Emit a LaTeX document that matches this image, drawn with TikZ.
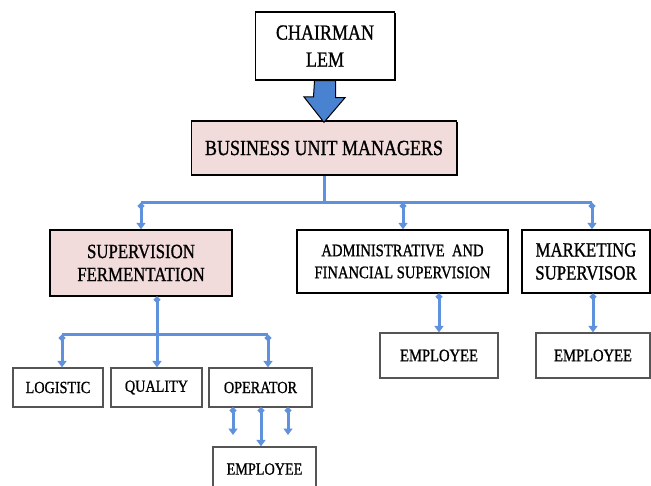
\documentclass[tikz,border=0pt]{standalone}
\usepackage{fontspec}
\usepackage{graphicx}
\setmainfont{Liberation Serif}[FakeBold=1.1]
\usetikzlibrary{arrows.meta,shadows}
\definecolor{lineblue}{RGB}{95,145,220}
\definecolor{arrowblue}{RGB}{74,130,210}
\definecolor{pinkfill}{RGB}{242,220,219}
\definecolor{boxgray}{RGB}{85,85,85}
\newcommand{\tallt}[1]{\scalebox{1}[1.2]{#1}}
\tikzset{
  topbox/.style={draw=black, line width=1.4pt, fill=white, align=center, inner sep=0pt,
    drop shadow={shadow xshift=1.4pt, shadow yshift=-1.4pt, fill=black, opacity=1}},
  pinkbox/.style={topbox, fill=pinkfill},
  lowbox/.style={draw=boxgray, line width=1.2pt, fill=white, align=center, inner sep=0pt},
  bigtxt/.style={font=\fontsize{18}{27}\selectfont},
  midtxt/.style={font=\fontsize{16.8}{23}\selectfont},
  smalltxt/.style={font=\fontsize{14.6}{22}\selectfont},
  tinytxt/.style={font=\fontsize{14.2}{18}\selectfont},
  bline/.style={draw=lineblue, line width=3pt},
  conn/.style={bline, {Circle[length=6pt]}-{Triangle[length=6.5pt,width=9pt]}},
}
\begin{document}
\begin{tikzpicture}[x=1pt,y=-1pt]
\useasboundingbox (0,0) rectangle (651,486);
\clip (0,0) rectangle (651,486);
% nodes
\node[topbox, bigtxt, minimum width=139pt, minimum height=68pt] (chair) at (325,46) {\tallt{CHAIRMAN}\\\tallt{LEM}};
\node[pinkbox, bigtxt, minimum width=265pt, minimum height=54pt] (bum) at (324,148) {\tallt{BUSINESS UNIT MANAGERS}};
\node[pinkbox, midtxt, minimum width=182pt, minimum height=66pt] (sf) at (141,263) {\tallt{SUPERVISION}\\\tallt{FERMENTATION}};
\node[topbox, smalltxt, minimum width=211pt, minimum height=63pt] (adm) at (402.5,261.5) {\tallt{ADMINISTRATIVE\ \ AND}\\\tallt{FINANCIAL SUPERVISION}};
\node[topbox, midtxt, minimum width=128pt, minimum height=63pt] (mkt) at (586,261.5) {\tallt{MARKETING}\\\tallt{SUPERVISOR}};
\node[lowbox, smalltxt, minimum width=118pt, minimum height=45pt] (emp1) at (439,355.5) {\tallt{EMPLOYEE}};
\node[lowbox, smalltxt, minimum width=114pt, minimum height=45pt] (emp2) at (593,355.5) {\tallt{EMPLOYEE}};
\node[lowbox, tinytxt, minimum width=90pt, minimum height=39pt] (log) at (58,387.5) {\tallt{LOGISTIC}};
\node[lowbox, tinytxt, minimum width=91pt, minimum height=39pt] (qua) at (156.5,387.5) {\tallt{QUALITY}};
\node[lowbox, tinytxt, minimum width=103pt, minimum height=39pt] (ope) at (260.5,387.5) {\tallt{OPERATOR}};
\node[lowbox, tinytxt, minimum width=103pt, minimum height=46pt] (emp3) at (264.5,470) {\raisebox{2pt}{\tallt{EMPLOYEE}}};
% block arrow
\filldraw[fill=arrowblue, draw=black, line width=1pt]
  ([xshift=-10.5pt]chair.south) -- ([xshift=10.5pt]chair.south) -- ++(0,17) -- ++(9.5,0)
  -- ([yshift=-2pt]bum.north) -- (304,97) -- (313.5,97) -- cycle;
% junctions
\coordinate (hub) at (324,203);
\coordinate (j1) at (141,203);
\coordinate (j2) at (403,203);
\coordinate (j3) at (592,203);
\coordinate (h2) at (157,335);
\coordinate (k1) at (62,335);
\coordinate (k3) at (268,335);
\coordinate (o1) at (233,435);
\coordinate (o2) at (261,447);
\coordinate (o3) at (288,435);
% connectors
\draw[bline] (bum.south) -- (hub);
\draw[bline] (j1) -- (j3);
\draw[conn] (j1) -- (sf.north);
\draw[conn] (j2) -- (j2 |- adm.north);
\draw[conn] (j3) -- (j3 |- mkt.north);
\draw[conn] (emp1.north |- adm.south) -- (emp1.north);
\draw[conn] (emp2.north |- mkt.south) -- (emp2.north);
\draw[bline] (k1) -- (k3);
\draw[conn] (sf.south -| h2) -- (h2 |- qua.north);
\draw[conn] (k1) -- (k1 |- log.north);
\draw[conn] (k3) -- (k3 |- ope.north);
\draw[conn] (o1 |- ope.south) -- (o1);
\draw[conn] (o2 |- ope.south) -- (o2 |- emp3.north);
\draw[conn] (o3 |- ope.south) -- (o3);
\end{tikzpicture}
\end{document}
